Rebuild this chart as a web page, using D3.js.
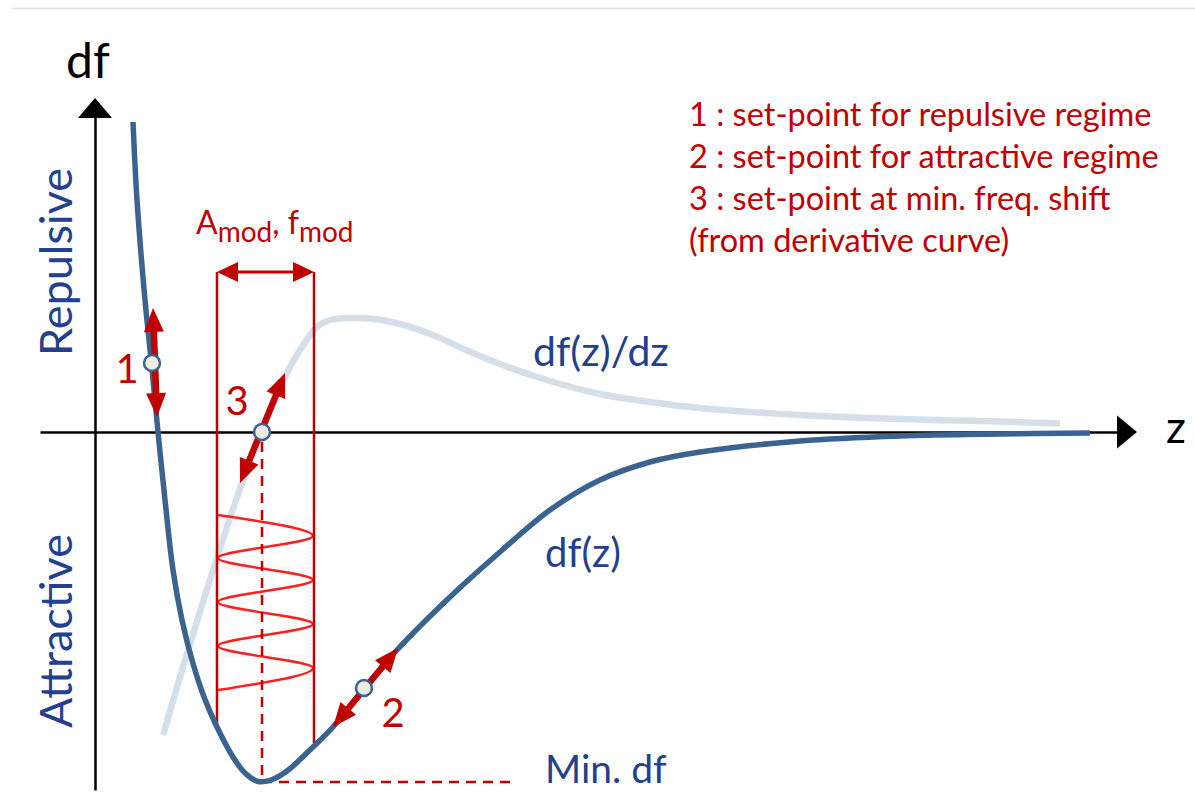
<!DOCTYPE html>
<html>
<head>
<meta charset="utf-8">
<script src="https://cdn.jsdelivr.net/npm/d3@7"></script>
<style>
  body { margin: 0; background: #fff; }
  svg { display: block; }
  text { font-family: Lato, "Open Sans", sans-serif; }
</style>
</head>
<body>
<div id="chart"></div>
<script>
// frequency shift df(z), as [z, df] (arbitrary units)
const dfCurve = [
  [3.8, 62], [4.2, 46.4], [5.0, 26.4], [5.65, 13.6], [6.3, 0], [7.0, -13.6],
  [7.8, -27.6], [8.7, -37.6], [9.7, -45.6], [10.9, -53], [12.2, -59],
  [13.8, -65], [15.0, -68.2], [16.3, -69.9], [17.6, -69.6], [19.2, -67.8],
  [21.8, -63], [23.8, -59], [26.8, -51.6], [30.2, -43.6], [35.5, -33],
  [40.5, -24], [45.5, -15.6], [50.5, -9.6], [55.5, -6], [60.5, -4],
  [70.5, -1.8], [80.5, -0.8], [90.5, -0.4], [99.5, -0.2]
];

// derivative df(z)/dz, same units
const derivCurve = [
  [6.8, -60.6], [8.8, -47], [11.5, -29.6], [14.1, -13.6], [15.4, -6.6],
  [16.7, 0], [19.2, 11.8], [20.5, 16.4], [22.2, 21], [23.5, 22.4],
  [25.5, 22.8], [28, 22.6], [30.5, 21.6], [33.8, 19.4], [37.1, 16.4],
  [40.5, 13.6], [45.5, 10.2], [50.5, 7.6], [55.5, 6], [60.5, 4.8],
  [70.5, 3.4], [80.5, 2.6], [90.5, 2.1], [96.5, 1.7]
];

// set-points, their labels and double arrows
const setPointIds = ["1", "2", "3"];
const setPointPos = [[5.7, 13.8], [26.9, -51.2], [16.7, 0]];
const setArrowEnds = [
  [[5.8, 24.8], [6.2, 3]],
  [[30.3, -43.2], [23.8, -59]],
  [[19, 11.8], [14.5, -10.2]]
];
const setLabelPos = [[3.2, 9.8], [29.8, -59], [14.2, 3.4]];

// modulation window and the oscillation drawn inside it
const modLeft = 12.2, modRight = 21.9, modTop = 32;
const modBottoms = [-59.2, -62.2];
const wavePeaks = [
  [12.3, -16.6], [21.8, -20.8], [12.3, -25.2], [21.8, -29.6], [12.3, -34],
  [21.8, -38.4], [12.3, -42.8], [21.8, -47.2], [12.3, -51.6]
];
const waveGridZ = [16.8, 21.5];
const waveGridDf = [-27.2, -44.8];

// minimum of df
const minDf = -70, minZ = 16.7, minLineEnd = 41.8;

const legendLines = [
  "1 : set-point for repulsive regime",
  "2 : set-point for attractive regime",
  "3 : set-point at min. freq. shift",
  "(from derivative curve)"
];

const width = 1195, height = 805;
const red = "#c00000", curveBlue = "#3b6390", lightBlue = "#d5dfe9", textBlue = "#233f8f";

const x = d3.scaleLinear().domain([0, 104.2]).range([95, 1137]);
const y = d3.scaleLinear().domain([-70, 0]).range([782, 432]);

const svg = d3.select("#chart").append("svg")
    .attr("width", width)
    .attr("height", height)
    .attr("viewBox", [0, 0, width, height]);

// faint separator at the top
svg.append("line")
    .attr("x1", 12).attr("x2", width)
    .attr("y1", 8.5).attr("y2", 8.5)
    .attr("stroke", "#e3e3e3").attr("stroke-width", 1.5);

function arrowHead(p, q, len, half) {
  // triangle with tip at q, pointing from p to q
  const dx = q[0] - p[0], dy = q[1] - p[1], L = Math.hypot(dx, dy);
  const ux = dx / L, uy = dy / L;
  const bx = q[0] - ux * len, by = q[1] - uy * len;
  return [[q[0], q[1]], [bx - uy * half, by + ux * half], [bx + uy * half, by - ux * half]];
}

function doubleArrow(g, a, b, {stroke = red, lineWidth = 6, len = 20, half = 10} = {}) {
  const dx = b[0] - a[0], dy = b[1] - a[1], L = Math.hypot(dx, dy);
  const ux = dx / L, uy = dy / L;
  g.append("line")
      .attr("x1", a[0] + ux * (len - 2)).attr("y1", a[1] + uy * (len - 2))
      .attr("x2", b[0] - ux * (len - 2)).attr("y2", b[1] - uy * (len - 2))
      .attr("stroke", stroke).attr("stroke-width", lineWidth);
  g.append("polygon").attr("points", arrowHead(b, a, len, half).join(" ")).attr("fill", stroke);
  g.append("polygon").attr("points", arrowHead(a, b, len, half).join(" ")).attr("fill", stroke);
}

// axes: bare domain lines with arrowheads
const xAxisDomain = [-5.5, x.invert(1120)];
svg.append("g")
    .attr("transform", `translate(0,${y(0)})`)
    .call(d3.axisBottom(x.copy().domain(xAxisDomain).range(xAxisDomain.map(x))).ticks(0).tickSizeOuter(0))
    .call(g => g.select(".domain").attr("stroke", "#000").attr("stroke-width", 2.5));
svg.append("polygon")
    .attr("points", [[x(104.2), y(0)], [x(104.2) - 20, y(0) - 16.5], [x(104.2) - 20, y(0) + 16.5]].join(" "))
    .attr("fill", "#000");

const yTip = y.invert(98);
const yAxisDomain = [y.invert(790), y.invert(112)];
svg.append("g")
    .attr("transform", `translate(${x(0)},0)`)
    .call(d3.axisLeft(y.copy().domain(yAxisDomain).range(yAxisDomain.map(y))).ticks(0).tickSizeOuter(0))
    .call(g => g.select(".domain").attr("stroke", "#000").attr("stroke-width", 2.5));
svg.append("polygon")
    .attr("points", [[x(0), y(yTip)], [x(0) - 17, y(yTip) + 20], [x(0) + 17, y(yTip) + 20]].join(" "))
    .attr("fill", "#000");

svg.append("text").attr("x", 66).attr("y", 78)
    .attr("font-size", 48).attr("fill", "#000").text("df");
svg.append("text").attr("x", 1166).attr("y", 443)
    .attr("font-size", 44).attr("fill", "#000").text("z");

// regime labels
svg.append("text")
    .attr("transform", "translate(72,262) rotate(-90)")
    .attr("text-anchor", "middle").attr("font-size", 45).attr("fill", textBlue)
    .text("Repulsive");
svg.append("text")
    .attr("transform", "translate(72,631) rotate(-90)")
    .attr("text-anchor", "middle").attr("font-size", 45).attr("fill", textBlue)
    .text("Attractive");

const line = d3.line().x(d => x(d[0])).y(d => y(d[1])).curve(d3.curveCatmullRom);

// derivative curve (behind)
svg.append("path")
    .attr("d", line(derivCurve))
    .attr("fill", "none").attr("stroke", lightBlue).attr("stroke-width", 6.5);

// faint chart grid behind the oscillation
const grid = svg.append("g").attr("stroke", "#e2e2e2").attr("stroke-width", 1).attr("stroke-dasharray", "2,2");
grid.selectAll("line.v").data(waveGridZ).join("line")
    .attr("x1", d => x(d)).attr("x2", d => x(d))
    .attr("y1", y(-16.6)).attr("y2", y(-54));
grid.selectAll("line.h").data(waveGridDf).join("line")
    .attr("x1", x(modLeft) - 4).attr("x2", x(modRight) + 4)
    .attr("y1", d => y(d)).attr("y2", d => y(d));

// oscillation
svg.append("path")
    .attr("d", d3.line().x(d => x(d[0])).y(d => y(d[1])).curve(d3.curveMonotoneY)(wavePeaks))
    .attr("fill", "none").attr("stroke", "#ff1f1f").attr("stroke-width", 2.5);

// modulation window
svg.append("line")
    .attr("x1", x(modLeft)).attr("x2", x(modLeft))
    .attr("y1", y(modTop)).attr("y2", y(modBottoms[0]))
    .attr("stroke", red).attr("stroke-width", 2.5);
svg.append("line")
    .attr("x1", x(modRight)).attr("x2", x(modRight))
    .attr("y1", y(modTop)).attr("y2", y(modBottoms[1]))
    .attr("stroke", red).attr("stroke-width", 2.5);
doubleArrow(svg.append("g"), [x(modLeft), y(modTop)], [x(modRight), y(modTop)],
    {lineWidth: 3, len: 21, half: 10});

const modLabel = svg.append("text").attr("x", 196).attr("y", 234)
    .attr("font-size", 32).attr("fill", red);
modLabel.append("tspan").text("A");
modLabel.append("tspan").attr("font-size", 28).attr("dy", 8).text("mod");
modLabel.append("tspan").attr("dy", -8).text(", f");
modLabel.append("tspan").attr("font-size", 28).attr("dy", 8).text("mod");

// min df dashed guides
svg.append("line")
    .attr("x1", x(minZ)).attr("x2", x(minZ))
    .attr("y1", y(-2)).attr("y2", y(minDf))
    .attr("stroke", red).attr("stroke-width", 2.5).attr("stroke-dasharray", "10,7");
svg.append("line")
    .attr("x1", x(minZ)).attr("x2", x(minLineEnd))
    .attr("y1", y(minDf)).attr("y2", y(minDf))
    .attr("stroke", red).attr("stroke-width", 2.5).attr("stroke-dasharray", "10,7");

// df(z) curve
svg.append("path")
    .attr("d", line(dfCurve))
    .attr("fill", "none").attr("stroke", curveBlue).attr("stroke-width", 5.5).attr("stroke-linecap", "butt");

// set-point arrows, markers and numbers
setArrowEnds.forEach(([a, b]) => {
  doubleArrow(svg.append("g"), [x(a[0]), y(a[1])], [x(b[0]), y(b[1])], {lineWidth: 6.5, len: 24, half: 10});
});
svg.append("g").selectAll("circle").data(setPointPos).join("circle")
    .attr("cx", d => x(d[0])).attr("cy", d => y(d[1])).attr("r", 8)
    .attr("fill", "#eeece1").attr("stroke", curveBlue).attr("stroke-width", 2.5);
svg.append("g").selectAll("text").data(setPointIds).join("text")
    .attr("x", (d, i) => x(setLabelPos[i][0])).attr("y", (d, i) => y(setLabelPos[i][1]))
    .attr("text-anchor", "middle").attr("font-size", 40).attr("fill", red)
    .text(d => d);

// curve names
svg.append("text").attr("x", 533).attr("y", 366).attr("font-size", 41).attr("fill", textBlue).text("df(z)/dz");
svg.append("text").attr("x", 545).attr("y", 567).attr("font-size", 40).attr("fill", textBlue).text("df(z)");
svg.append("text").attr("x", 545).attr("y", 783).attr("font-size", 39).attr("fill", textBlue).text("Min. df");

// legend
svg.append("g").selectAll("text").data(legendLines).join("text")
    .attr("x", 689).attr("y", (d, i) => 126 + i * 42)
    .attr("font-size", 32.5).attr("fill", red)
    .text(d => d);
</script>
</body>
</html>
